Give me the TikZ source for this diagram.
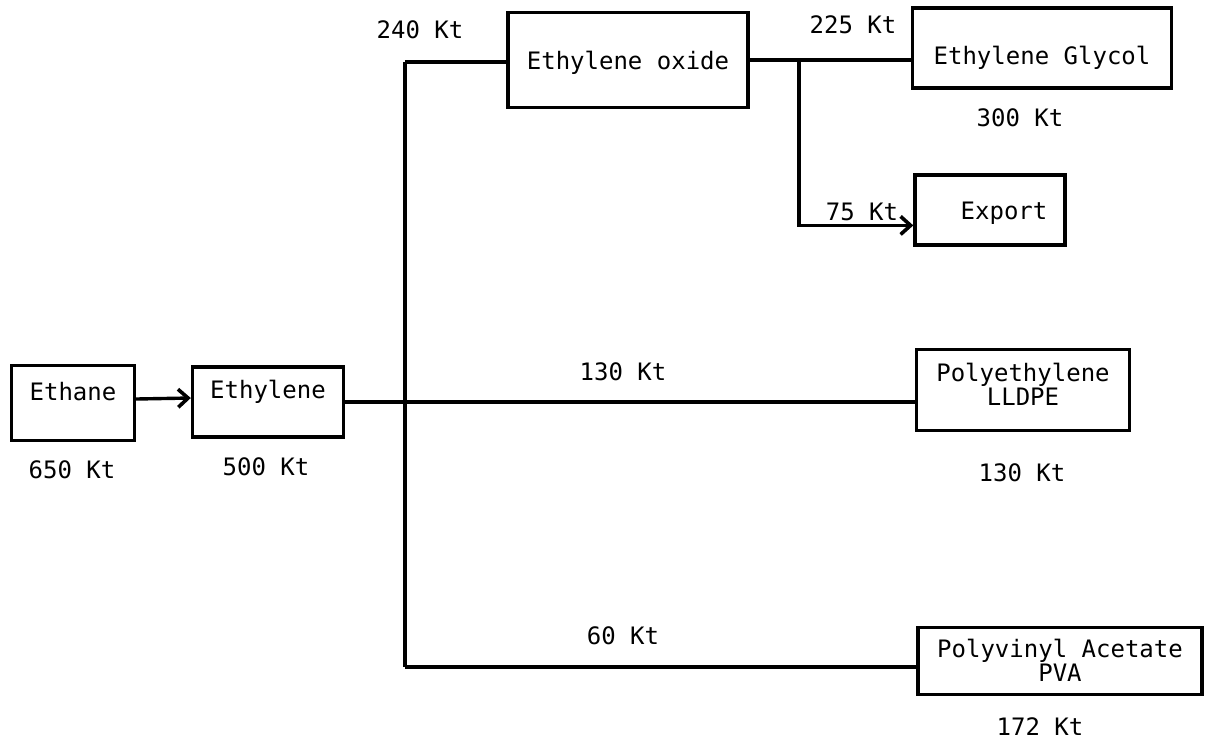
\documentclass[tikz,border=0pt]{standalone}
\usepackage{fontspec}
\setmainfont{DejaVu Sans Mono}
\usetikzlibrary{arrows.meta,calc}
\begin{document}
\begin{tikzpicture}[x=0.5pt,y=-0.5pt,
  font=\fontsize{12}{12}\selectfont,
  proc/.style={draw,line width=1.7pt,inner sep=0pt},
  txt/.style={inner sep=0pt,align=center,font=\fontsize{12}{12}\selectfont},
  flow/.style={line width=1.7pt},
  arr/.style={flow,-{Straight Barb[length=5pt,width=9pt,line width=1.8pt]}},
  qty/.style={inner sep=0pt}]
\useasboundingbox (0,0) rectangle (1206,741);
% boxes
\node[proc,minimum width=61.5pt,minimum height=37.5pt,
  label={[txt,yshift=5.5pt]center:Ethane}] (ethane) at (73,403) {};
\node[proc,minimum width=75.5pt,minimum height=35pt,
  label={[txt,yshift=5pt]center:Ethylene}] (ethylene) at (268,402) {};
\node[proc,minimum width=120pt,minimum height=47.5pt,
  label={[txt,yshift=-1.5pt]center:Ethylene oxide}] (eo) at (628,60) {};
\node[proc,minimum width=129.5pt,minimum height=40pt,
  label={[txt,yshift=-5pt]center:Ethylene Glycol}] (eg) at (1042,48) {};
\node[proc,minimum width=75pt,minimum height=35pt,
  label={[txt,yshift=-1.5pt,xshift=7pt]center:Export}] (export) at (990,210) {};
\node[proc,minimum width=106.5pt,minimum height=40.5pt,
  label={[txt,yshift=3pt]center:Polyethylene\\LLDPE\hspace{8pt}}] (pe) at (1023,390) {};
\node[proc,minimum width=142pt,minimum height=33.5pt,
  label={[txt,yshift=0.5pt]center:Polyvinyl Acetate\\PVA\hspace{12pt}}] (pva) at (1060,661) {};
% junctions
\coordinate (jt) at (405,62);
\coordinate (jb) at (405,667);
\coordinate (br) at (799,60);
% connectors
\draw[arr] (ethane.east) ++(0,-4) -- ($(ethylene.west)+(0,-4)$);
\draw[flow] (ethylene.east) -- (pe.west |- ethylene.east);
\draw[flow] (jt) -- (jb);
\draw[flow] (jt) -- (eo.west |- jt);
\draw[flow] (jb) -- (pva.west |- jb);
\draw[flow] (eo.east) -- (eg.west |- eo.east);
\draw[arr] (br) |- ($(export.south west)!0.29!(export.north west)$);
% quantities
\node[qty] (q1) at (420,30) {240 Kt};
\node[qty] (q2) at (853,25) {225 Kt};
\node[qty] (q3) at (1020,118) {300 Kt};
\node[qty] (q4) at (862,212) {75 Kt};
\node[qty] (q5) at (623,372) {130 Kt};
\node[qty] (q6) at (623,636) {60 Kt};
\node[qty] (q7) at (72,470) {650 Kt};
\node[qty] (q8) at (266,467) {500 Kt};
\node[qty] (q9) at (1022,473) {130 Kt};
\node[qty] (q10) at (1040,727) {172 Kt};
\end{tikzpicture}
\end{document}
